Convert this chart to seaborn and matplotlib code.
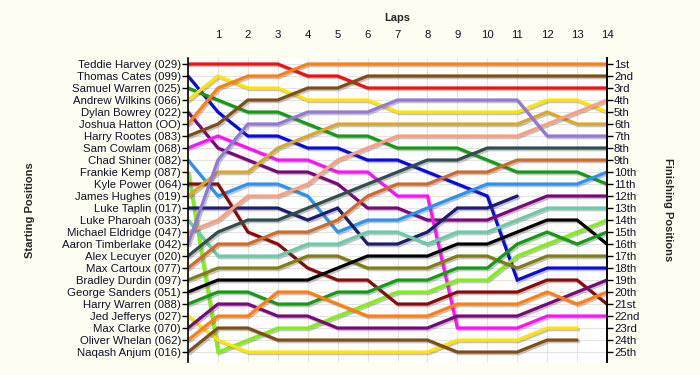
import numpy as np
import pandas as pd
import matplotlib
matplotlib.use("Agg")
import matplotlib.pyplot as plt
import matplotlib.patheffects as pe
import seaborn as sns

nan = np.nan
laps = list(range(15))
drivers = ["Teddie Harvey (029)", "Thomas Cates (099)", "Samuel Warren (025)", "Andrew Wilkins (066)",
           "Dylan Bowrey (022)", "Joshua Hatton (OO)", "Harry Rootes (083)", "Sam Cowlam (068)",
           "Chad Shiner (082)", "Frankie Kemp (087)", "Kyle Power (064)", "James Hughes (019)",
           "Luke Taplin (017)", "Luke Pharoah (033)", "Michael Eldridge (047)", "Aaron Timberlake (042)",
           "Alex Lecuyer (020)", "Max Cartoux (077)", "Bradley Durdin (097)", "George Sanders (051)",
           "Harry Warren (088)", "Jed Jefferys (027)", "Max Clarke (070)", "Oliver Whelan (062)",
           "Naqash Anjum (016)"]

teddie_harvey    = [1, 1, 1, 1, 2, 2, 3, 3, 3, 3, 3, 3, 3, 3, 3]
thomas_cates     = [2, 5, 7, 7, 8, 8, 9, 9, 10, 11, 12, 19, 18, 18, 18]
samuel_warren    = [3, 4, 5, 5, 6, 7, 7, 8, 8, 8, 9, 10, 10, 10, 11]
andrew_wilkins   = [4, 2, 3, 3, 4, 4, 4, 5, 5, 5, 5, 5, 4, 4, 5]
dylan_bowrey     = [5, 8, 9, 10, 10, 11, 13, 13, 14, 14, 14, 13, 12, 12, 12]
joshua_hatton    = [6, 3, 2, 2, 1, 1, 1, 1, 1, 1, 1, 1, 1, 1, 1]
harry_rootes     = [7, 6, 4, 4, 3, 3, 2, 2, 2, 2, 2, 2, 2, 2, 2]
sam_cowlam       = [8, 7, 8, 9, 9, 10, 10, 12, 12, 23, 23, 23, 22, 22, 22]
chad_shiner      = [9, 12, 11, 11, 12, 15, 14, 14, 13, 12, 11, 11, 11, 11, 10]
frankie_kemp     = [10, 25, 24, 23, 23, 22, 21, 20, 20, 19, 19, 17, 16, 15, 14]
kyle_power       = [11, 11, 15, 16, 18, 19, 19, 21, 21, 20, 20, 20, 19, 19, 21]
james_hughes     = [12, 10, 10, 8, 7, 6, 6, 6, 6, 6, 6, 6, 5, 6, 6]
luke_taplin      = [13, 13, 13, 13, 14, 13, 16, 16, 15, 13, 13, 12, nan, nan, nan]
luke_pharoah     = [14, 17, 17, 17, 16, 16, 15, 15, 16, 15, 15, 14, 13, 13, 13]
michael_eldridge = [15, 14, 12, 12, 11, 9, 8, 7, 7, 7, 7, 7, 6, 5, 4]
aaron_timberlake = [16, 9, 6, 6, 5, 5, 5, 4, 4, 4, 4, 4, 7, 7, 7]
alex_lecuyer     = [17, 15, 14, 14, 13, 12, 11, 10, 9, 9, 8, 8, 8, 8, 8]
max_cartoux      = [18, 16, 16, 15, 15, 14, 12, 11, 11, 10, 10, 9, 9, 9, 9]
bradley_durdin   = [19, 18, 18, 18, 17, 17, 18, 18, 18, 17, 17, 18, 17, 17, 17]
george_sanders   = [20, 19, 19, 19, 19, 18, 17, 17, 17, 16, 16, 15, 14, 14, 16]
harry_warren     = [21, 20, 20, 21, 21, 20, 20, 19, 19, 18, 18, 16, 15, 16, 15]
jed_jefferys     = [22, 24, 25, 25, 25, 25, 25, 25, 25, 24, 24, 24, 23, 23, nan]
max_clarke       = [23, 21, 21, 22, 22, 23, 23, 23, 23, 22, 22, 22, 21, 20, 19]
oliver_whelan    = [24, 22, 22, 20, 20, 21, 22, 22, 22, 21, 21, 21, 20, 21, 20]
naqash_anjum     = [25, 23, 23, 24, 24, 24, 24, 24, 24, 25, 25, 25, 24, 24, nan]

series = [teddie_harvey, thomas_cates, samuel_warren, andrew_wilkins, dylan_bowrey, joshua_hatton,
          harry_rootes, sam_cowlam, chad_shiner, frankie_kemp, kyle_power, james_hughes, luke_taplin,
          luke_pharoah, michael_eldridge, aaron_timberlake, alex_lecuyer, max_cartoux, bradley_durdin,
          george_sanders, harry_warren, jed_jefferys, max_clarke, oliver_whelan, naqash_anjum]

colors = ["#EE1111", "#0A0ADD", "#159A15", "#FFE400", "#7A087A", "#FF8010", "#7E4E16", "#FF10FF",
          "#2A92F0", "#80F010", "#8A0A0A", "#D8A828", "#1C1C70", "#68CCA8", "#FAA080", "#9478D8",
          "#304E4E", "#D06A28", "#807E10", "#000000", "#159A15", "#FFE400", "#7A087A", "#FF8010",
          "#7E4E16"]

finish_labels = ["1st", "2nd", "3rd"] + [f"{i}th" for i in range(4, 21)] + ["21st", "22nd", "23rd", "24th", "25th"]

rows = []
for d, s in zip(drivers, series):
    for lap, p in zip(laps, s):
        rows.append({"driver": d, "lap": lap, "pos": p})
df = pd.DataFrame(rows).dropna()

sns.set_theme(style="white")
plt.rcParams['font.family'] = ['Liberation Sans', 'DejaVu Sans']

fig = plt.figure(figsize=(7, 3.75), dpi=100)
fig.patch.set_facecolor("#FDFDF2")
ax = fig.add_axes([188/700, 1 - 362/375, (607-188)/700, (362-58)/375])
ax.set_facecolor("white")

sns.lineplot(data=df, x="lap", y="pos", hue="driver", hue_order=drivers,
             palette=dict(zip(drivers, colors)), legend=False, ax=ax,
             linewidth=2.3, estimator=None, sort=False)
for ln in ax.get_lines():
    ln.set_path_effects([pe.SimpleLineShadow(offset=(1.2, -1.2), alpha=0.35, shadow_color="#555555"),
                         pe.Normal()])
    ln.set_solid_joinstyle("miter")

ax.set_xlim(0, 14)
ax.set_ylim(25.83, 0.5)
ax.set_xticks(range(0, 15))
ax.set_xticklabels([""] + [str(i) for i in range(1, 15)])
ax.xaxis.tick_top()
ax.tick_params(axis="x", length=0, pad=13, labelsize=8.2, labelcolor="#10102a")
ax.set_yticks(range(1, 26))
ax.set_yticklabels(drivers)
ax.tick_params(axis="y", left=True, length=4, width=1, color="black", labelsize=8.2,
               labelcolor="#10102a", pad=1)
ax.grid(True, color="#E4E4E4", linewidth=0.8)
ax.set_axisbelow(True)
ax.set_xlabel("")
ax.set_ylabel("")
for s in ["top", "bottom"]:
    ax.spines[s].set_visible(False)
for s in ["left", "right"]:
    ax.spines[s].set_color("black")
    ax.spines[s].set_linewidth(1.2)

ax2 = ax.twinx()
ax2.set_ylim(25.83, 0.5)
ax2.set_yticks(range(1, 26))
ax2.set_yticklabels(finish_labels)
ax2.tick_params(axis="y", right=True, length=4, width=1, color="black", labelsize=8.2,
                labelcolor="#10102a", pad=1)
for s in ["top", "bottom", "left"]:
    ax2.spines[s].set_visible(False)
ax2.spines["right"].set_color("black")
ax2.spines["right"].set_linewidth(1.2)
ax2.grid(False)

fig.text(397/700, 1 - 18/375, "Laps", ha="center", va="center", fontsize=8, fontweight="bold")
fig.text(30/700, 1 - 210/375, "Starting Positions", ha="center", va="center", rotation=90,
         fontsize=8, fontweight="bold")
fig.text(668/700, 1 - 210/375, "Finishing Positions", ha="center", va="center", rotation=270,
         fontsize=8, fontweight="bold")

fig.savefig("out.png", dpi=100, facecolor=fig.get_facecolor())
